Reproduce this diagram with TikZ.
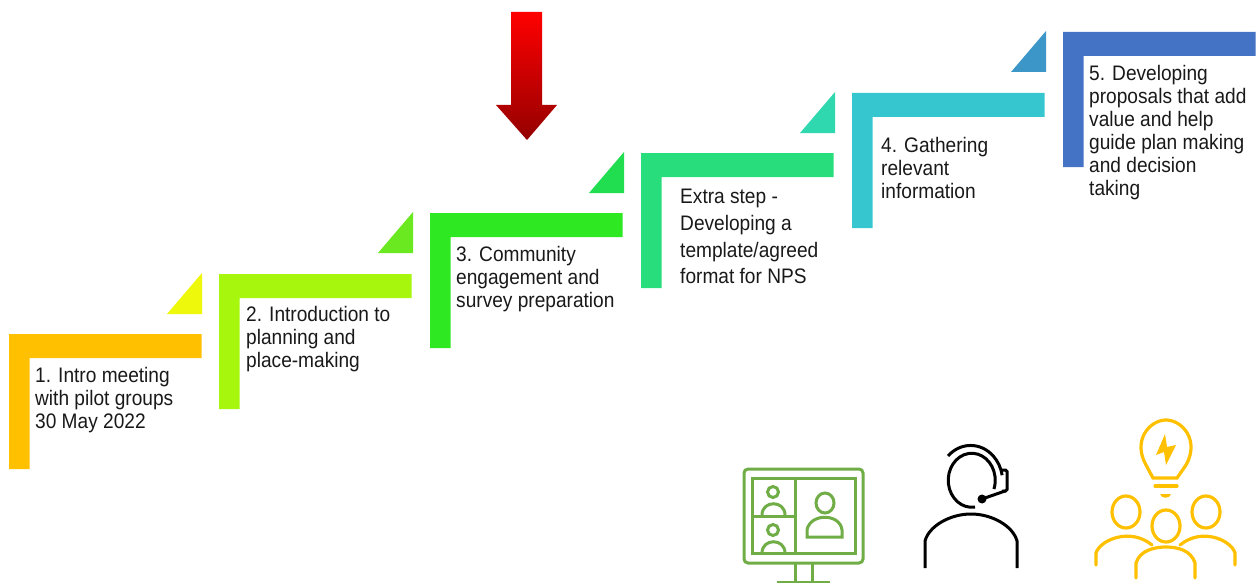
\documentclass[tikz,border=0pt]{standalone}
\usepackage{fontspec}
\setmainfont{Liberation Sans}
\usetikzlibrary{positioning}
\definecolor{stepa}{HTML}{FFC000}
\definecolor{stepb}{HTML}{A6F60E}
\definecolor{stepc}{HTML}{2EE822}
\definecolor{stepd}{HTML}{28DE7C}
\definecolor{stepe}{HTML}{36C6D0}
\definecolor{stepf}{HTML}{4472C4}
\definecolor{tria}{HTML}{EEF80A}
\definecolor{trib}{HTML}{6AE820}
\definecolor{tric}{HTML}{20DE50}
\definecolor{trid}{HTML}{30D8B0}
\definecolor{trie}{HTML}{3C96C8}
\definecolor{icongreen}{HTML}{70AD47}
\definecolor{iconyellow}{HTML}{FFC000}
\newfontfamily\stepfont[FakeStretch=0.91]{Liberation Sans}
\tikzset{
    step label/.style={inner sep=0pt,align=left,font=\stepfont\fontsize{21}{23}\selectfont,text=black!90},
    green icon/.style={draw=icongreen,line width=3pt},
    black icon/.style={draw=black,line width=3pt},
    yellow icon/.style={draw=iconyellow,line width=3.2pt,line cap=round}
}
\begin{document}
\begin{tikzpicture}[x=1pt,y=-1pt]
    \useasboundingbox (0,0) rectangle (1257,583);

    % corners of the steps
    \coordinate (s1) at (9,334);
    \coordinate (s2) at (219,274);
    \coordinate (s3) at (430,213);
    \coordinate (s4) at (641,153);
    \coordinate (s5) at (852,93);
    \coordinate (s6) at (1063,32);

    \foreach \corner/\col in {s1/stepa,s2/stepb,s3/stepc,s4/stepd,s5/stepe,s6/stepf}
        \fill[\col] (\corner) -- ++(192.5,0) -- ++(0,24) -- ++(-172,0) -- ++(0,111) -- ++(-20.5,0) -- cycle;

    \foreach \corner/\col in {s2/tria,s3/trib,s4/tric,s5/trid,s6/trie}
        \fill[\col] (\corner) ++(-17,40) -- ++(0,-41) -- ++(-35,41) -- cycle;

    \node[step label,below right=33pt and 26pt of s1] (t1) {1. Intro meeting\\with pilot groups\\30 May 2022};
    \node[step label,below right=32pt and 27pt of s2] (t2) {2. Introduction to\\planning and\\place-making};
    \node[step label,below right=33pt and 26pt of s3] (t3) {3. Community\\engagement and\\survey preparation};
    \node[step label,below right=36pt and 39pt of s4,font=\stepfont\fontsize{21}{26.7}\selectfont] (t4) {Extra step -\\Developing a\\template/agreed\\format for NPS};
    \node[step label,below right=44pt and 29pt of s5] (t5) {4. Gathering\\relevant\\information};
    \node[step label,below right=33pt and 26pt of s6] (t6) {5. Developing\\proposals that add\\value and help\\guide plan making\\and decision\\taking};

    % red arrow
    \path[top color=red,bottom color=red!58!black,shading angle=0]
        (511,12) -- (542,12) -- (542,105) -- (557,105) -- (527,140) -- (496,105) -- (511,105) -- cycle;

    % screen
    \draw[green icon,rounded corners=4pt] (744,469) rectangle (863,563);
    \draw[green icon] (752,478) rectangle (855,553);
    \draw[green icon] (795,478) -- (795,553) (752,516) -- (795,516);
    \draw[green icon] (795,563) -- (795,582) (812,563) -- (812,582) (777,582) -- (830,582);
    \draw[green icon] (773,492) circle (5.5pt);
    \draw[green icon] (762,515) .. controls (762,500) and (785,500) .. (785,515);
    \draw[green icon] (773,530) circle (5.5pt);
    \draw[green icon] (762,553) .. controls (762,538) and (785,538) .. (785,553);
    \draw[green icon] (825,503) ellipse (9pt and 10pt);
    \draw[green icon] (807,537) -- (807,530) .. controls (810,513) and (840,513) .. (842,530) -- (842,537) -- cycle;

    % headset
    \draw[black icon] (975,507) arc[start angle=278,end angle=-19,x radius=23.5pt,y radius=27pt];
    \draw[black icon] (948,456) arc[start angle=135,end angle=10,x radius=32pt,y radius=36pt];
    \draw[black icon,rounded corners=1.5pt] (1002,470) -- (1007,470) -- (1007,491) -- (1002,491);
    \draw[black icon] (1005,491) -- (982,499);
    \fill (982,499) circle (4.5pt);
    \draw[black icon] (925,568) -- (925,541) .. controls (929,526) and (950,514) .. (971,514)
        .. controls (992,514) and (1013,526) .. (1017,541) -- (1017,568);

    % bulb and group
    \draw[yellow icon] (1153,478) -- (1146,465) .. controls (1132,440) and (1150,420) .. (1166,420)
        .. controls (1182,420) and (1200,440) .. (1186,465) -- (1177,478) -- cycle;
    \fill[iconyellow] (1165,434) -- (1156,455) -- (1164,452) -- (1166,465) -- (1176,445) -- (1167,447) -- cycle;
    \draw[yellow icon] (1155,486) -- (1177,486);
    \fill[iconyellow] (1160,494) -- (1171,494) .. controls (1170,499) and (1161,499) .. (1160,494) -- cycle;
    \draw[yellow icon] (1126,512) ellipse (14pt and 16pt);
    \draw[yellow icon] (1206,512) ellipse (14pt and 16pt);
    \draw[yellow icon] (1166,526) ellipse (14pt and 16pt);
    \draw[yellow icon] (1096,565) -- (1096,553) .. controls (1100,540) and (1130,527) .. (1152,545);
    \draw[yellow icon] (1235,565) -- (1235,553) .. controls (1231,540) and (1202,527) .. (1180,545);
    \draw[yellow icon] (1136,578) -- (1136,563) .. controls (1140,550) and (1155,547) .. (1166,547)
        .. controls (1177,547) and (1191,550) .. (1195,563) -- (1195,578);
\end{tikzpicture}
\end{document}
